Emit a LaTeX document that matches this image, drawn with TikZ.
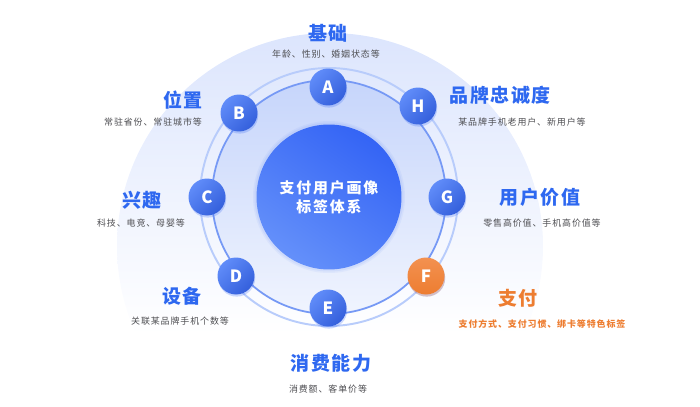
\documentclass[tikz,border=0pt]{standalone}
\usepackage{fontspec}
\setmainfont{Noto Sans CJK SC}
\newfontfamily\headfont[LetterSpace=8]{Noto Sans CJK SC}
\newfontfamily\notefont[LetterSpace=10]{Noto Sans CJK SC}
\newfontfamily\hubfont[LetterSpace=12]{Noto Sans CJK SC}
\usetikzlibrary{shadows}

\definecolor{mainblue}{RGB}{58,106,244}
\definecolor{lightblue}{RGB}{96,140,249}
\definecolor{hubdark}{RGB}{52,100,245}
\definecolor{hublight}{RGB}{100,144,250}
\definecolor{titleblue}{RGB}{46,104,240}
\definecolor{notegray}{RGB}{78,78,82}
\definecolor{accent}{RGB}{237,125,49}
\definecolor{accentlight}{RGB}{243,145,80}
\definecolor{bgtop}{RGB}{220,229,253}
\definecolor{disctop}{RGB}{198,213,251}
\definecolor{discbottom}{RGB}{240,244,254}
\definecolor{ringin}{RGB}{118,153,245}
\definecolor{ringout}{RGB}{184,204,251}

\begin{document}
\begin{tikzpicture}[
    x=0.02cm, y=-0.02cm,
    hub/.style={circle, minimum size=2.9cm, inner sep=0pt, align=center, text=white,
        font=\hubfont\bfseries\fontsize{8.5}{10.8}\selectfont,
        shade, top color=hubdark, bottom color=hublight, shading angle=-35},
    badge/.style={circle, minimum size=0.74cm, inner sep=0pt, text=white,
        font=\bfseries\fontsize{9.6}{10}\selectfont,
        shade, top color=lightblue, bottom color=mainblue!90!black, shading angle=45,
        drop shadow={shadow xshift=0.4pt, shadow yshift=-1.2pt, fill=mainblue, opacity=0.25}},
    hotbadge/.style={badge, top color=accentlight, bottom color=accent,
        drop shadow={shadow xshift=0.4pt, shadow yshift=-1.2pt, fill=accent, opacity=0.25}},
    headline/.style={text=titleblue, font=\headfont\bfseries\fontsize{10.8}{12}\selectfont, inner sep=0pt},
    note/.style={text=notegray, font=\notefont\fontsize{5.1}{6}\selectfont, inner sep=0pt},
    hotheadline/.style={headline, text=accent},
    hotnote/.style={note, text=accent, font=\notefont\bfseries\fontsize{5.1}{6}\selectfont}
]
\useasboundingbox (0,0) rectangle (700,406);

% Background disc and rings
\begin{scope}
  \clip (330,246) circle[radius=213];
  \shade[top color=bgtop, bottom color=white] (100,33) rectangle (560,335);
\end{scope}
\coordinate (mid) at (329,197);
\shade[top color=disctop, bottom color=discbottom] (mid) circle[radius=117];
\draw[ringout, line width=1.1pt] (mid) circle[radius=129];
\draw[ringin, line width=1pt] (mid) circle[radius=117];
\fill[mainblue, opacity=0.06] (mid) circle[radius=76];
\fill[mainblue, opacity=0.08] (mid) circle[radius=74.5];

% Centre
\node (hub) [hub] at (mid) {支付用户画像\\标签体系};

% Badges
\node (A) [badge] at (328,87) {A};
\node (B) [badge] at (239,113) {B};
\node (C) [badge] at (207,197) {C};
\node (D) [badge] at (236,276) {D};
\node (E) [badge] at (328,308) {E};
\node (F) [hotbadge] at (426,276) {F};
\node (G) [badge] at (447,197) {G};
\node (H) [badge] at (418,106) {H};

% Labels
\node (basicTitle) [headline] at (328,33) {基础};
\node (basicNote) [note] at (326,54) {年龄、性别、婚姻状态等};
\node (placeTitle) [headline] at (183,100) {位置};
\node (placeNote) [note] at (153,122) {常驻省份、常驻城市等};
\node (hobbyTitle) [headline] at (142,200) {兴趣};
\node (hobbyNote) [note] at (141,223) {科技、电竞、母婴等};
\node (deviceTitle) [headline] at (182,296) {设备};
\node (deviceNote) [note] at (180,321) {关联某品牌手机个数等};
\node (spendTitle) [headline] at (331,363) {消费能力};
\node (spendNote) [note] at (328,389) {消费额、客单价等};
\node (brandTitle) [headline] at (500,95) {品牌忠诚度};
\node (brandNote) [note] at (522,122) {某品牌手机老用户、新用户等};
\node (valueTitle) [headline] at (540,197) {用户价值};
\node (valueNote) [note] at (542,223) {零售高价值、手机高价值等};
\node (payTitle) [hotheadline] at (518,298) {支付};
\node (payNote) [hotnote] at (542,324) {支付方式、支付习惯、绑卡等特色标签};

\end{tikzpicture}
\end{document}
